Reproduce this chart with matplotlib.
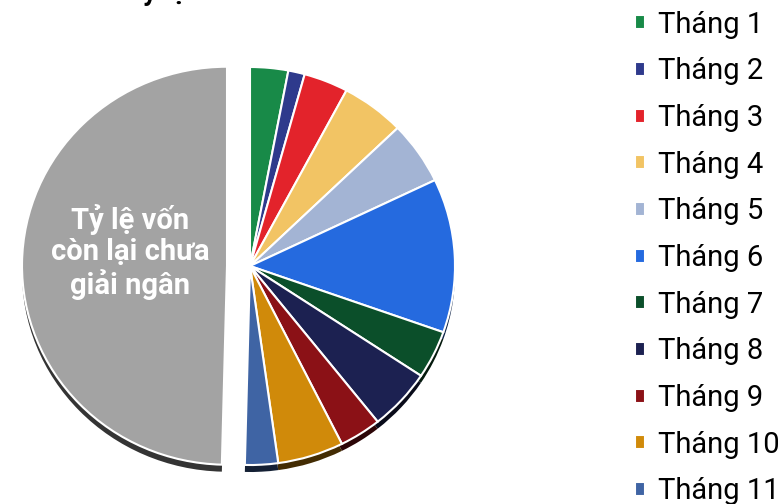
import numpy as np
import matplotlib.pyplot as plt
from matplotlib.colors import to_rgb

plt.rcParams['font.family'] = ['Roboto', 'DejaVu Sans']

# Dữ liệu (% vốn giải ngân theo tháng)
thang = ['Tháng 1', 'Tháng 2', 'Tháng 3', 'Tháng 4', 'Tháng 5', 'Tháng 6',
         'Tháng 7', 'Tháng 8', 'Tháng 9', 'Tháng 10', 'Tháng 11']
ty_le = [3.0, 1.3, 3.5, 5.0, 5.1, 12.5, 3.9, 5.0, 3.3, 5.2, 2.6]
con_lai_label = 'Tỷ lệ vốn\ncòn lại chưa\ngiải ngân'
con_lai = 49.6

mau = ['#188a48', '#2e3a8c', '#e3232b', '#f2c464', '#a3b4d4', '#256adf',
       '#0b4f2a', '#1c2151', '#8b1116', '#d08a0a', '#3f64a4']
mau_con_lai = '#a3a3a3'

values = ty_le + [con_lai]
colors = mau + [mau_con_lai]

W, H = 781, 504
fig = plt.figure(figsize=(W / 100, H / 100), dpi=100)
ax = fig.add_axes([0, 0, 1, 1])

# hình tròn hơi bị kéo giãn theo chiều ngang như bản gốc
rx, ry = 205, 199
k = rx / ry                      # đơn vị dữ liệu / pixel theo trục y
cx, cy = 250, (H - 266) * k
explode = [0] * len(ty_le) + [23]

# bóng đổ phía dưới
shadow_colors = [tuple(c * 0.32 for c in to_rgb(col)) for col in colors]
ax.pie(values, colors=shadow_colors, explode=explode, startangle=90,
       counterclock=False, center=(cx, cy - 7 * k), radius=rx, frame=True,
       wedgeprops=dict(linewidth=0))

wedges, _ = ax.pie(values, colors=colors, explode=explode, startangle=90,
                   counterclock=False, center=(cx, cy), radius=rx, frame=True,
                   wedgeprops=dict(edgecolor='white', linewidth=1.5))
ax.set_xlim(0, W)
ax.set_ylim(0, H * k)
ax.set_aspect('auto')
ax.axis('off')

fig.text(130 / W, 1 - 252 / H, con_lai_label, ha='center', va='center',
         color='white', fontsize=21, fontweight='bold', linespacing=1.12)

# tiêu đề bị cắt ở mép trên
fig.text(126 / W, 1.0, 'Tỷ lệ', ha='left', va='baseline', fontsize=20,
         fontweight='bold', color='black')

fig.legend(wedges[:len(thang)], thang, loc='upper left',
           bbox_to_anchor=(623 / W, 1 + 1 / H), frameon=False,
           fontsize=21, handlelength=0.36, handleheight=0.36,
           handletextpad=0.45, labelspacing=0.64, borderaxespad=0)

plt.savefig('out.png', dpi=100)
